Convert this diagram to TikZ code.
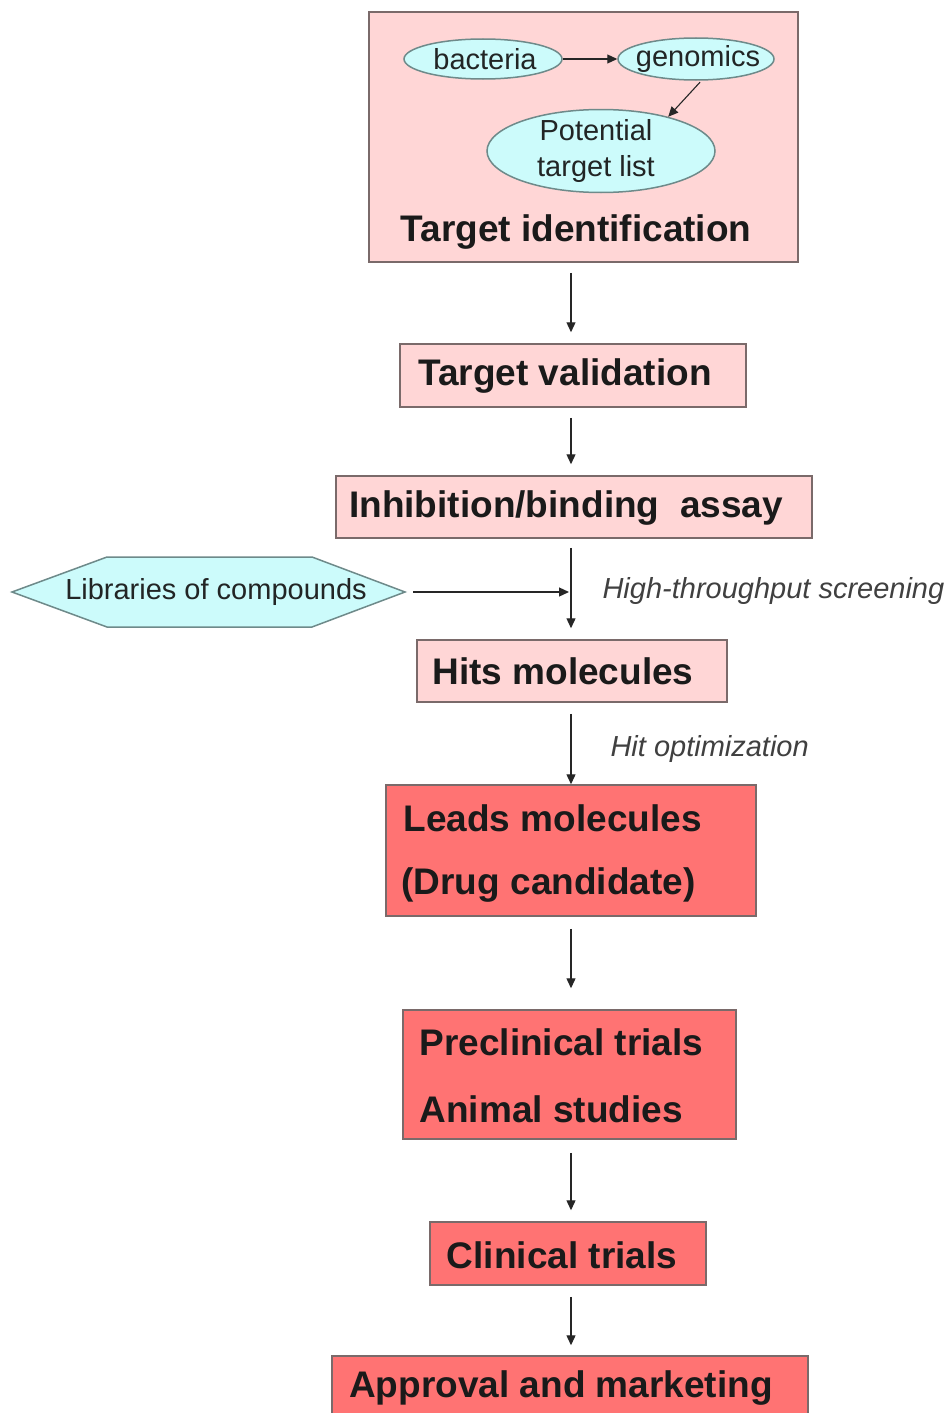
\documentclass[tikz,border=0pt]{standalone}
\usepackage{fontspec}
\setmainfont{Liberation Sans}
\usetikzlibrary{arrows.meta,shapes.geometric}
\definecolor{lightpink}{HTML}{FFD6D6}
\definecolor{darkpink}{HTML}{FF7373}
\definecolor{boxedge}{HTML}{7A6A6A}
\definecolor{cyanfill}{HTML}{CCFBFB}
\definecolor{cyanedge}{HTML}{6E8A8A}
\definecolor{txt}{HTML}{1A1A1A}
\tikzset{
  x=1pt, y=-1pt,
  bigfont/.style={font=\fontsize{37}{44}\selectfont\bfseries, text=txt},
  smallfont/.style={font=\fontsize{29}{36}\selectfont, text=txt!90!cyanedge},
  boxbase/.style={rectangle, draw=boxedge, line width=1.5pt, inner sep=0pt},
  lightbox/.style={boxbase, fill=lightpink},
  darkbox/.style={boxbase, fill=darkpink},
  oval/.style={ellipse, draw=cyanedge, line width=1.5pt, fill=cyanfill, inner sep=0pt},
  conn/.style={draw=black!85, line width=1.3pt, -{Triangle[length=10pt,width=9pt]}},
  gap/.style={shorten <=10pt, shorten >=11pt},
  note/.style={font=\fontsize{29}{34}\selectfont\itshape, text=black!75},
}
\begin{document}
\begin{tikzpicture}
\clip (0,0) rectangle (949,1413);
\fill[white] (0,0) rectangle (949,1413);
\coordinate (axis) at (571,0);

% Target identification box
\node[lightbox, minimum width=429pt, minimum height=250pt] (tid) at (583.5,137) {};
\node[bigfont] (tidlbl) at (576,232) {Target identification};
\node[oval, minimum width=158pt, minimum height=40pt] (bact) at (483,59) {};
\node[smallfont] (bactlbl) at (485,59) {bacteria};
\node[oval, minimum width=156pt, minimum height=42pt] (gen) at (696,59) {};
\node[smallfont] (genlbl) at (698,59) {genomics};
\node[oval, minimum width=228pt, minimum height=83pt] (ptl) at (601,151) {};
\node[smallfont, align=center] (ptllbl) at (596,151) {Potential\\target list};
\draw[conn, line width=1.1pt] (bact) -- (gen);
\draw[conn, line width=1.1pt, shorten <=2pt] (gen.-76) -- (ptl.27);

% Target validation
\node[lightbox, minimum width=346pt, minimum height=63pt] (tv) at (573,375.5) {};
\node[bigfont] (tvlbl) at (565,376) {Target validation};

% Inhibition
\node[lightbox, minimum width=476pt, minimum height=62pt] (inh) at (574,507) {};
\node[bigfont] (inhlbl) at (566,508) {Inhibition/binding\ \ assay};

% Libraries hexagon
\path[draw=cyanedge, line width=1.5pt, fill=cyanfill] (12,592) -- (107,557) -- (312,557) -- (405,592) -- (312,627) -- (107,627) -- cycle;
\node[minimum width=393pt, minimum height=70pt, inner sep=0pt] (lib) at (208.5,592) {};
\node[smallfont] (liblbl) at (216,592) {Libraries of compounds};
\coordinate (joint) at (569,592);
\node[note, anchor=west] (hts) at (599,591) {High-throughput screening};

% Hits
\node[lightbox, minimum width=310pt, minimum height=62pt] (hits) at (572,671) {};
\node[bigfont] (hitslbl) at (563,671) {Hits molecules};
\node[note, anchor=west] (hopt) at (607,749) {Hit optimization};

% Leads
\node[darkbox, minimum width=370pt, minimum height=131pt] (lead) at (571,850.5) {};
\node[bigfont, anchor=west] (lead1) at (400,818) {Leads molecules};
\node[bigfont, anchor=west] (lead2) at (398,885) {(Drug candidate)};

% Preclinical
\node[darkbox, minimum width=333pt, minimum height=129pt] (pre) at (569.5,1074.5) {};
\node[bigfont, anchor=west] (pre1) at (416,1042) {Preclinical trials};
\node[bigfont, anchor=west] (pre2) at (416,1109) {Animal studies};

% Clinical
\node[darkbox, minimum width=276pt, minimum height=63pt] (clin) at (568,1253.5) {};
\node[bigfont] (clinlbl) at (562,1255) {Clinical trials};

% Approval
\node[darkbox, minimum width=476pt, minimum height=74pt] (appr) at (570,1393) {};
\node[bigfont] (apprlbl) at (561,1388) {Approval and marketing};

% connectors
\draw[conn, gap] (tid.south -| axis) -- (tv.north -| axis);
\draw[conn, gap] (tv.south -| axis) -- (inh.north -| axis);
\draw[conn, shorten <=9pt, shorten >=11pt] (inh.south -| axis) -- (hits.north -| axis);
\draw[conn, shorten <=8pt, shorten >=0pt] (lib.east) -- (joint);
\draw[conn, shorten <=11pt, shorten >=0pt] (hits.south -| axis) -- (lead.north -| axis);
\draw[conn, shorten <=12pt, shorten >=21pt] (lead.south -| axis) -- (pre.north -| axis);
\draw[conn, shorten <=13pt, shorten >=11pt] (pre.south -| axis) -- (clin.north -| axis);
\draw[conn, shorten <=11pt, shorten >=10pt] (clin.south -| axis) -- (appr.north -| axis);
\end{tikzpicture}
\end{document}
